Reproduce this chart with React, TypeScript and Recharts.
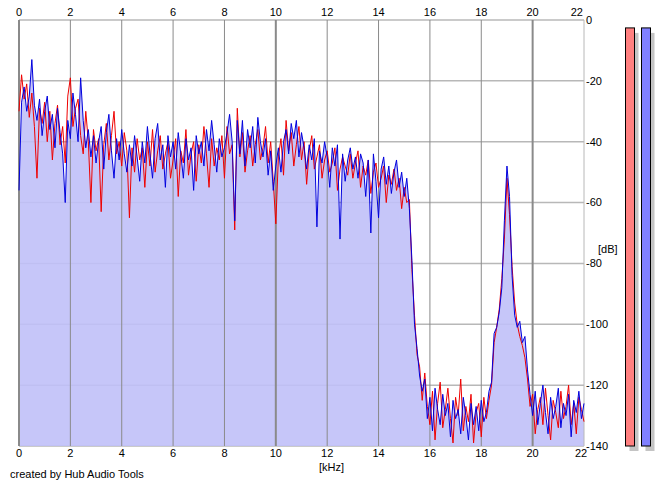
import { Area, Bar, BarChart, CartesianGrid, ComposedChart, Line, ReferenceLine, XAxis, YAxis } from 'recharts';

// spectrum bins, 0.1 kHz apart, 0 .. 22 kHz
const BIN_KHZ = 0.1;

const leftDb = [
  -30, -18, -26, -21, -32, -24, -35, -52, -29, -34, -27, -40, -30, -46, -34, -28, -41, -35, -47, -25,
  -19, -35, -29, -26, -38, -44, -30, -40, -60, -36, -43, -39, -63, -41, -34, -46, -38, -30, -44, -40,
  -48, -37, -43, -65, -42, -50, -39, -46, -42, -55, -40, -48, -36, -50, -43, -38, -49, -44, -40, -52,
  -46, -39, -58, -43, -47, -36, -51, -44, -40, -53, -41, -47, -35, -44, -55, -39, -48, -42, -46, -38,
  -52, -35, -44, -41, -69, -29, -45, -37, -50, -43, -38, -48, -41, -36, -46, -42, -35, -47, -40, -53,
  -67, -45, -39, -51, -33, -43, -37, -48, -41, -35, -46, -40, -54, -43, -38, -49, -45, -41, -52, -46,
  -43, -50, -47, -42, -56, -49, -45, -48, -51, -44, -52, -47, -43, -55, -48, -51, -46, -57, -50, -47,
  -55, -52, -48, -60, -51, -54, -49, -56, -52, -62, -55, -60, -59, -82, -97, -110, -114, -125, -116, -127,
  -133, -122, -138, -126, -119, -134, -128, -121, -131, -139, -124, -130, -118, -135, -127, -132, -123, -139, -129, -126,
  -137, -124, -131, -125, -120, -106, -101, -95, -85, -72, -52, -64, -81, -93, -100, -104, -107, -111, -118, -127,
  -123, -136, -128, -124, -133, -121, -130, -138, -125, -129, -134, -122, -131, -127, -120, -133, -126, -136, -124, -128,
  -132,
];

const rightDb = [
  -56, -27, -22, -30, -25, -13, -28, -33, -26, -38, -30, -25, -36, -31, -42, -29, -37, -44, -60, -33,
  -39, -24, -31, -40, -19, -33, -42, -36, -45, -38, -47, -40, -35, -49, -37, -31, -43, -52, -39, -46,
  -36, -44, -50, -41, -48, -38, -45, -53, -40, -47, -35, -44, -52, -39, -34, -46, -41, -55, -38, -45,
  -40, -49, -37, -44, -52, -39, -46, -42, -56, -38, -44, -40, -48, -36, -43, -33, -41, -50, -39, -45,
  -42, -37, -31, -40, -66, -33, -44, -33, -48, -36, -42, -35, -47, -32, -40, -45, -39, -51, -43, -56,
  -48, -42, -50, -40, -36, -44, -34, -39, -33, -45, -37, -42, -49, -41, -46, -39, -68, -43, -47, -40,
  -45, -55, -42, -48, -41, -72, -44, -53, -46, -42, -49, -45, -52, -44, -47, -58, -46, -70, -44, -53,
  -65, -49, -45, -54, -48, -57, -50, -46, -55, -50, -58, -52, -62, -79, -100, -108, -117, -122, -118, -131,
  -124, -135, -121, -128, -133, -123, -130, -126, -137, -125, -131, -128, -136, -124, -130, -138, -126, -133, -127, -135,
  -125, -132, -129, -122, -119, -103, -101, -96, -88, -66, -48, -58, -84, -97, -101, -99, -106, -104, -115, -123,
  -130, -122, -133, -126, -120, -129, -136, -124, -131, -127, -121, -134, -126, -130, -123, -137, -125, -129, -122, -131,
  -126,
];

const freqTicks = [0, 2, 4, 6, 8, 10, 12, 14, 16, 18, 20, 22];
const dbTicks = [0, -20, -40, -60, -80, -100, -120, -140];

// peak meters, left / right channel
const meterChannels = ['L', 'R'];
const meterPeakDb = [-2.6, -2.6];
const METER_FLOOR = -140;

const data = leftDb.map((l, i) => ({
  khz: Math.round(i * BIN_KHZ * 10) / 10,
  left: l,
  right: rightDb[i],
}));

const meterData = meterChannels.map((ch, i) => ({
  ch,
  level: meterPeakDb[i] - METER_FLOOR,
  color: i === 0 ? '#ff8080' : '#8080ff',
}));

const FONT = '"Liberation Sans", Arial, sans-serif';
const FS = 11;

function TopTick({ x, y, payload }: any) {
  const last = payload.value === 22;
  return (
    <text x={last ? x - 1 : x} y={y} textAnchor={last ? 'end' : 'middle'} fontSize={FS} fill="#000" fontFamily={FONT}>
      {payload.value}
    </text>
  );
}

function BottomTick({ x, y, payload }: any) {
  const last = payload.value === 22;
  return (
    <text x={last ? x - 3 : x} y={y} dy="0.71em" textAnchor="middle" fontSize={FS} fill="#000" fontFamily={FONT}>
      {payload.value}
    </text>
  );
}

function RightTick({ x, y, payload }: any) {
  return (
    <text x={x} y={y} dy="0.355em" textAnchor="start" fontSize={FS} fill="#000" fontFamily={FONT}>
      {payload.value}
    </text>
  );
}

function MeterBar(props: any) {
  const { x, y, width, height, payload } = props;
  return (
    <g>
      <rect x={x + 4} y={y + 5} width={width} height={height} fill="#c4c4c4" />
      <rect x={x} y={y} width={width} height={height} fill={payload.color} stroke="#000" strokeWidth={1} />
    </g>
  );
}

export default function App() {
  return (
    <div style={{ position: 'absolute', left: 0, top: 0, width: 665, height: 487, background: '#fff', fontFamily: FONT }}>
      <div style={{ position: 'absolute', left: 0, top: 0 }}>
        <ComposedChart width={665} height={487} data={data} margin={{ top: 0, right: 31, bottom: 21, left: 19 }}>
          <CartesianGrid vertical={false} stroke="#b8b8b8" strokeWidth={1.5} xAxisId="bottom" />
          <XAxis
            xAxisId="top"
            orientation="top"
            dataKey="khz"
            type="number"
            domain={[0, 22]}
            ticks={freqTicks}
            height={20}
            tickSize={0}
            tickMargin={4}
            axisLine={false}
            tickLine={false}
            tick={<TopTick />}
          />
          <XAxis
            xAxisId="bottom"
            orientation="bottom"
            dataKey="khz"
            type="number"
            domain={[0, 22]}
            ticks={freqTicks}
            height={20}
            tickSize={0}
            tickMargin={3}
            axisLine={false}
            tickLine={false}
            tick={<BottomTick />}
          />
          <YAxis
            orientation="right"
            type="number"
            domain={[-140, 0]}
            ticks={dbTicks}
            width={50}
            tickSize={0}
            tickMargin={2}
            axisLine={false}
            tickLine={false}
            allowDataOverflow
            tick={<RightTick />}
          />
          <Area
            xAxisId="bottom"
            dataKey="right"
            type="linear"
            baseValue={-140}
            fill="#c0c0f8"
            fillOpacity={0.9}
            stroke="none"
            isAnimationActive={false}
          />
          {freqTicks.map((t) => (
            <ReferenceLine
              key={'v' + t}
              xAxisId="bottom"
              x={t}
              stroke={t === 22 ? '#b8b8b8' : '#8a8a8a'}
              strokeWidth={t % 10 === 0 ? 2 : 1}
            />
          ))}
          <Line
            xAxisId="bottom"
            dataKey="left"
            type="linear"
            stroke="#ee0000"
            strokeWidth={1}
            dot={false}
            isAnimationActive={false}
          />
          <Line
            xAxisId="bottom"
            dataKey="right"
            type="linear"
            stroke="#0000dd"
            strokeWidth={1}
            dot={false}
            isAnimationActive={false}
          />
        </ComposedChart>
      </div>
      <div style={{ position: 'absolute', left: 0, top: 0 }}>
        <BarChart width={665} height={487} data={meterData} margin={{ top: 20, right: 11.5, bottom: 41, left: 621.5 }}>
          <XAxis dataKey="ch" hide />
          <YAxis type="number" domain={[0, 140]} hide />
          <Bar dataKey="level" barSize={9} shape={<MeterBar />} isAnimationActive={false} />
        </BarChart>
      </div>
      <div style={{ position: 'absolute', left: 598, top: 243, fontSize: FS, lineHeight: '13px' }}>[dB]</div>
      <div style={{ position: 'absolute', left: 319, top: 461, fontSize: FS, lineHeight: '13px' }}>[kHz]</div>
      <div style={{ position: 'absolute', left: 10, top: 468, fontSize: FS, lineHeight: '13px' }}>created by Hub Audio Tools</div>
    </div>
  );
}
